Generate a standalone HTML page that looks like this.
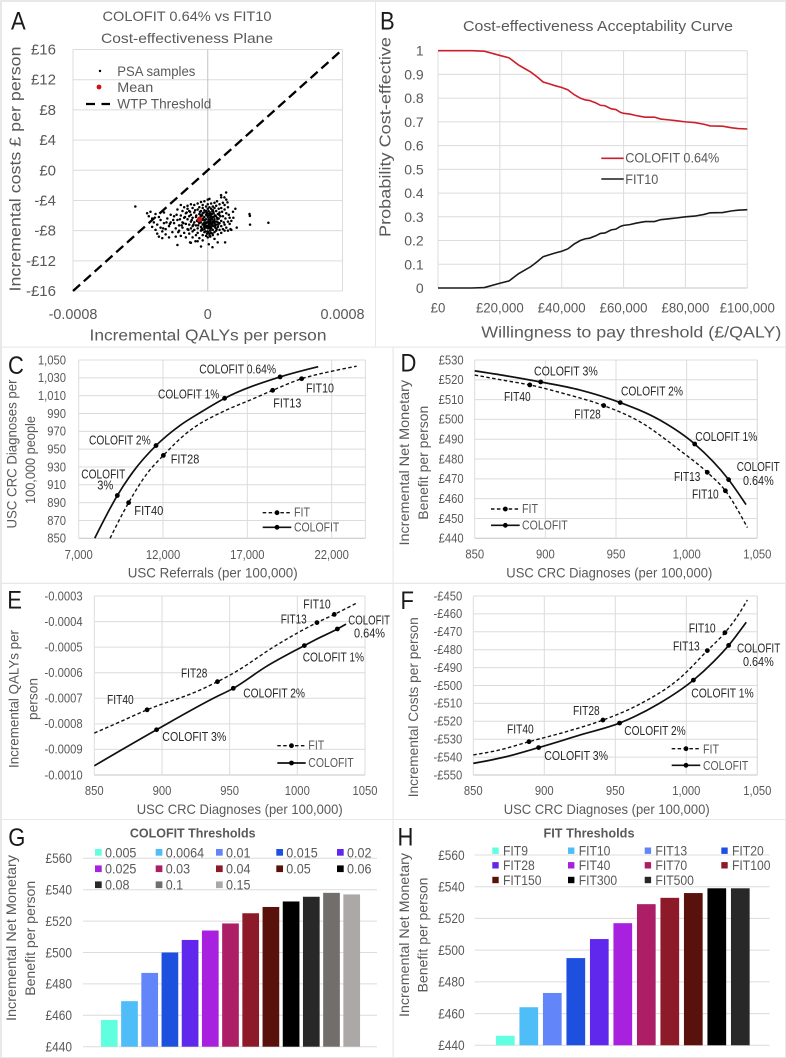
<!DOCTYPE html>
<html lang="en">
<head>
<meta charset="utf-8">
<title>COLOFIT vs FIT cost-effectiveness figure</title>
<style>
html,body{margin:0;padding:0;background:#e8e8e8;}
body{width:786px;height:1058px;overflow:hidden;}
svg{display:block;filter:blur(0.35px);font-family:"Liberation Sans",Arial,sans-serif;}
</style>
</head>
<body>
<svg id="figure" xmlns="http://www.w3.org/2000/svg" width="786" height="1058" viewBox="0 0 786 1058"></svg>
<script>
// ---------- Panel A data ----------
const aYTicks = [16,12,8,4,0,-4,-8,-12,-16];
const aYLabels = ['£16','£12','£8','£4','£0','-£4','-£8','-£12','-£16'];
const aXTicks = [-0.0008,0,0.0008];
const aXLabels = ['-0.0008','0','0.0008'];
const thresholdQaly = [-0.0008,0.0008];
const thresholdCost = [-16,16];
const meanQaly = [-0.000049];
const meanCost = [-6.5];
const psaQaly1e5 = [-43,24.8,25,25.1,36,16.4,15.2,17.2,13.5,10.9,7.9,9.9,11.7,-18,-4,2.8,0.6,5.9,10.3,-10.5,-7.3,-3,-10,4,-6,
-36,-35,-34,-33,-33,-32,-31,-31,-30,-30,-29,-29,-28,-28,-27,-27,-26,-26,-25,-25,-24,-23,-23,-22,-22,-21,-20,-20,-19,-19,-18,-18,-17,-17,-16,-16,-16,-15,-15,-15,-14,-14,-14,-13,-13,-13,-12,-12,-12,-12,-11,-11,-11,-11,-10,-10,-10,-10,-9,-9,-9,-9,-9,-8,-8,-8,-8,-7,-7,-7,
-6,-6,-6,-6,-6,-5,-5,-5,-5,-5,-4,-4,-4,-4,-4,-4,-3,-3,-3,-3,-3,-3,-2,-2,-2,-2,-2,-2,-2,-1,-1,-1,-1,-1,-1,-1,0,0,0,0,0,0,0,0,0,0.5,0.5,0.5,1,1,1,1,1,1,1,1.5,1.5,1.5,1.5,2,2,2,2,2,2,2.5,2.5,2.5,3,3,3,3,3,3.5,3.5,3.5,4,4,4,4,4,4.5,4.5,5,5,5,5,5,5.5,5.5,6,6,6,6,6.5,6.5,7,7,7,7,7.5,8,8,8,8,8,8.5,9,9,9,9.5,10,10,10,10,10.5,11,11,11,12,12,12,12.5,13,13,14,14,15];
const psaCost = [-4.8,-5.8,-6.05,-7.2,-6.95,-5.1,-6.3,-7.6,-7.8,-2.95,-3.3,-3.6,-4.25,-9.9,-10.1,-10.2,-9.8,-9.55,-9.55,-9.55,-9.4,-9.3,-9.6,-9.1,-9.4,
-5.7,-6.1,-5.5,-6.4,-7.5,-6.9,-5.8,-7.9,-8.4,-7.2,-6.2,-8.8,-7.6,-6.6,-8.1,-9.0,-5.6,-7.0,-7.8,-8.5,-6.4,-8.9,-7.4,-6.9,-5.9,-8.2,-7.0,-6.1,-8.8,-7.7,-6.6,-5.2,-7.3,-8.0,-6.0,-4.6,-8.7,-6.9,-5.4,-7.6,-8.3,-6.3,-4.9,-7.1,-5.7,-8.9,-6.5,-7.8,-5.1,-4.7,-6.1,-7.2,-8.4,-5.4,-6.8,-4.5,-7.7,-5.9,-6.3,-7.4,-8.9,-5.0,-8.1,-5.6,-6.9,-4.6,-7.9,-6.2,-7.3,-8.6,
-5.2,-6.6,-7.7,-8.3,-4.4,-5.8,-7.0,-6.3,-9.0,-4.9,-6.9,-5.4,-7.5,-8.0,-4.2,-6.1,-5.0,-6.6,-7.2,-8.6,-5.7,-4.6,-6.2,-7.8,-5.3,-6.9,-4.1,-8.2,-7.3,-5.9,-6.5,-7.0,-8.7,-4.8,-5.4,-7.6,-6.2,-6.8,-3.9,-5.1,-7.4,-8.1,-8.9,-4.5,-5.7,-6.5,-7.1,-5.4,-6.0,-7.7,-8.4,-4.9,-6.7,-3.8,-7.3,-5.6,-6.3,-8.0,-8.8,-5.1,-6.9,-7.5,-4.4,-6.1,-8.3,-5.8,-7.1,-6.5,-4.8,-7.9,-5.3,-6.8,-8.6,-6.2,-7.4,-5.7,-4.3,-7.0,-6.5,-8.2,-5.0,-6.0,-7.6,-5.4,-6.8,-4.7,-7.2,-8.0,-6.3,-4.1,-5.8,-7.5,-6.9,-8.5,-5.1,-6.4,-4.5,-7.9,-5.6,-7.0,-6.1,-3.6,-5.0,-6.7,-7.4,-8.3,-5.5,-4.3,-6.1,-7.8,-6.9,-5.2,-4.6,-7.2,-8.0,-6.4,-5.7,-7.6,-3.9,-6.8,-4.9,-8.0,-5.9,-7.1,-6.3,-7.9,-6.7,-5.5];
const psaCoreQaly1e5 = [-6.4,-5.7,-5.2,-4.6,-3.7,-3.3,-2.6,-2.3,-1.7,-1.3,-0.6,-0.3,0.3,0.8,1.3,1.8,2.3,2.8,3.3,3.8,4.3,4.8,5.3,5.8,6.3,6.8,-6.8,-5.5,-4.3,-3.5,-2.8,-1.5,-0.8,0.2,0.7,1.2,1.7,2.2,2.7,3.2,3.7,4.2,-0.4,0.4,1.1,-1.1,-2.1,2.1,-3.1,3.1,-12.5,-14.5,-16.5,-18.5,-20.5,-22.5,-24.5,-26.5,-8.5,-7.5,-10.5,-11.5,-9.5,-13.5,-15.5,-17.5];
const psaCoreCost = [-6.7,-7.3,-6.4,-5.5,-7.9,-6.0,-7.1,-5.6,-6.6,-8.1,-7.4,-6.0,-6.9,-7.6,-5.8,-7.0,-6.4,-8.4,-5.5,-6.7,-7.3,-6.1,-7.8,-6.5,-7.2,-5.9,-6.0,-6.8,-5.9,-7.7,-6.4,-7.2,-5.6,-7.7,-6.0,-7.0,-6.6,-7.2,-5.4,-6.2,-6.9,-6.0,-8.4,-8.2,-8.6,-6.9,-7.5,-7.7,-7.9,-7.3,-5.6,-7.0,-6.5,-5.9,-6.6,-7.1,-6.9,-7.7,-7.2,-5.3,-5.5,-7.9,-6.6,-6.2,-7.3,-8.2];

// ---------- Panel B data ----------
const bYTicks = [1,0.9,0.8,0.7,0.6,0.5,0.4,0.3,0.2,0.1,0];
const bYLabels = ['1','0.9','0.8','0.7','0.6','0.5','0.4','0.3','0.2','0.1','0'];
const bXTicks = [0,20000,40000,60000,80000,100000];
const bXLabels = ['£0','£20,000','£40,000','£60,000','£80,000','£100,000'];
const wtpValues = [0,11000,15000,20000,23000,26000,28000,30000,32000,34000,36000,38000,40000,42000,44000,46000,47500,49000,51000,52500,54000,56000,57500,59000,60000,62000,64000,66000,67000,70000,72000,75000,77000,80000,83000,86000,88000,92000,95000,97000,100000];
const ceacColofit = [1,1,.998,.98,.97,.94,.925,.91,.89,.868,.86,.852,.845,.835,.815,.80,.793,.79,.78,.77,.768,.755,.752,.74,.736,.733,.727,.722,.72,.72,.712,.708,.705,.70,.697,.69,.683,.682,.675,.672,.67];
const ceacFit = [0,0,.002,.02,.03,.06,.075,.09,.11,.132,.14,.148,.155,.165,.185,.20,.207,.21,.22,.23,.232,.245,.248,.26,.264,.267,.273,.278,.28,.28,.288,.292,.295,.30,.303,.31,.317,.318,.325,.328,.33];

// ---------- Panel C data ----------
const cXTicks = [7000,12000,17000,22000];
const cXLabels = ['7,000','12,000','17,000','22,000'];
const cYTicks = [1050,1030,1010,990,970,950,930,910,890,870,850];
const cYLabels = ['1,050','1,030','1,010','990','970','950','930','910','890','870','850'];
const cColofitX = [7950,9290,10240,11585,13000,14200,15650,18940,21200];
const cColofitY = [850,898,925,954,976.5,991,1007,1031,1042.5];
const cColofitMarks = [1,3,6,7];
const cFitX = [8860,9960,11030,12020,13400,15770,17160,18500,20220,21900,23480];
const cFitY = [850,890,922,943,968,994,1005,1016,1029,1037,1043];
const cFitMarks = [1,3,7,8];

// ---------- Panel D data ----------
const dXTicks = [850,900,950,1000,1050];
const dXLabels = ['850','900','950','1,000','1,050'];
const dYTicks = [530,520,510,500,490,480,470,460,450,440];
const dYLabels = ['£530','£520','£510','£500','£490','£480','£470','£460','£450','£440'];
const dColofitX = [850,872.4,896.7,924.3,953,981,1005.7,1029.7,1042];
const dColofitY = [524.5,522,518.9,514.9,508.5,499.7,487.6,469.6,457];
const dColofitMarks = [2,4,6,7];
const dFitX = [850,867.7,889,915,941.3,966.7,995,1014.6,1027.4,1043];
const dFitY = [522.4,520.1,517.4,512.7,507,498.9,484.5,473.3,464,445.4];
const dFitMarks = [2,4,7,8];

// ---------- Panel E data ----------
const eXTicks = [850,900,950,1000,1050];
const eXLabels = ['850','900','950','1000','1050'];
const eYTicks = [-0.0003,-0.0004,-0.0005,-0.0006,-0.0007,-0.0008,-0.0009,-0.0010];
const eYLabels = ['-0.0003','-0.0004','-0.0005','-0.0006','-0.0007','-0.0008','-0.0009','-0.0010'];
const eColofitX = [850,896,938,952.7,977,1005.2,1013,1029.6,1036];
const eColofitY = [-0.000964,-0.000823,-0.0007,-0.000661,-0.000576,-0.000494,-0.000472,-0.000429,-0.00041];
const eColofitMarks = [1,3,5,7];
const eFitX = [850,869,889,928,941,952.7,984.7,1014.5,1027.3,1043.3];
const eFitY = [-0.000836,-0.000792,-0.000745,-0.000668,-0.000635,-0.000602,-0.000492,-0.000404,-0.000372,-0.000329];
const eFitMarks = [2,4,7,8];

// ---------- Panel F data ----------
const fXTicks = [850,900,950,1000,1050];
const fXLabels = ['850','900','950','1,000','1,050'];
const fYTicks = [-450,-460,-470,-480,-490,-500,-510,-520,-530,-540,-550];
const fYLabels = ['-£450','-£460','-£470','-£480','-£490','-£500','-£510','-£520','-£530','-£540','-£550'];
const fColofitX = [850,873,896,925,953,981,1005,1018.8,1029.8,1042.2];
const fColofitY = [-543.5,-539.8,-534.7,-527.7,-521,-510,-497,-487,-477.6,-464.7];
const fColofitMarks = [2,4,6,8];
const fFitX = [850,868.5,889.2,915.5,941.3,967,995.3,1014.8,1027.2,1035,1043];
const fFitY = [-538.8,-536,-531.4,-525.8,-519.3,-510.5,-496,-480.5,-470.5,-462.5,-452.2];
const fFitMarks = [2,4,7,8];

// ---------- Panels G and H data ----------
const barYTicks = [560,540,520,500,480,460,440];
const barYLabels = ['£560','£540','£520','£500','£480','£460','£440'];
const gCategories = ['0.005','0.0064','0.01','0.015','0.02','0.025','0.03','0.04','0.05','0.06','0.08','0.1','0.15'];
const gValues = [457,469,487,500,508,514,518.5,525,529,532.5,535.5,538,537];
const gColors = ['#5fffdf','#4fbdf7','#6285fa','#1e50e0','#5f28ec','#a721df','#ac1f66','#8c1a28','#58120b','#000000','#282828','#726e6c','#aca8a7'];
const hCategories = ['FIT9','FIT10','FIT13','FIT20','FIT28','FIT40','FIT70','FIT100','FIT150','FIT300','FIT500'];
const hValues = [446,464,473,495,507,517,529,533,536,539,539];
const hColors = ['#5fffdf','#4fbdf7','#6285fa','#1e50e0','#5f28ec','#a721df','#ac1f66','#8c1a28','#58120b','#000000','#282828'];

// ---------- Helpers ----------
const NS = 'http://www.w3.org/2000/svg';
const svg = document.getElementById('figure');
const GRAY = '#595959', DARK = '#262626', GRID = '#dcdcdc', AXIS = '#c4c4c4';

function mk(tag, parent, attrs, name) {
  const el = document.createElementNS(NS, tag);
  for (const k in attrs) el.setAttribute(k, attrs[k]);
  
  
  parent.appendChild(el);
  return el;
}
function scale(d0, d1, r0, r1) { return v => r0 + (v - d0) / (d1 - d0) * (r1 - r0); }

function txt(parent, str, x, y, size, name, o) {
  o = o || {};
  const attrs = {x: x, y: y, 'font-size': size, fill: o.fill || GRAY, 'text-anchor': o.anchor || 'start'};
  if (o.weight) attrs['font-weight'] = o.weight;
  if (o.rot) attrs.transform = 'rotate(-90 ' + x + ' ' + y + ')';
  const el = mk('text', parent, attrs, name);
  el.textContent = str;
  let w = o.width;
  if (!w && o.squeeze) w = el.getComputedTextLength() * o.squeeze;
  if (w) { el.setAttribute('textLength', w); el.setAttribute('lengthAdjust', 'spacingAndGlyphs'); }
  return el;
}
function line(parent, x1, y1, x2, y2, stroke, sw, name, dash) {
  const a = {x1: x1, y1: y1, x2: x2, y2: y2, stroke: stroke, 'stroke-width': sw};
  if (dash) a['stroke-dasharray'] = dash;
  return mk('line', parent, a, name);
}
// Monotone cubic path through pixel points sorted along x.
function smoothPath(pts) {
  const n = pts.length, sl = [], t = [];
  for (let i = 0; i < n - 1; i++) sl.push((pts[i + 1][1] - pts[i][1]) / (pts[i + 1][0] - pts[i][0]));
  for (let i = 1; i < n - 1; i++) {
    const h0 = pts[i][0] - pts[i - 1][0], h1 = pts[i + 1][0] - pts[i][0];
    const p = (sl[i - 1] * h1 + sl[i] * h0) / (h0 + h1);
    t[i] = (Math.sign(sl[i - 1]) + Math.sign(sl[i])) * Math.min(Math.abs(sl[i - 1]), Math.abs(sl[i]), 0.5 * Math.abs(p));
  }
  t[0] = (3 * sl[0] - t[1]) / 2;
  t[n - 1] = (3 * sl[n - 2] - t[n - 2]) / 2;
  let d = 'M' + pts[0][0].toFixed(2) + ' ' + pts[0][1].toFixed(2);
  for (let i = 0; i < n - 1; i++) {
    const dx = (pts[i + 1][0] - pts[i][0]) / 3;
    d += 'C' + (pts[i][0] + dx).toFixed(2) + ' ' + (pts[i][1] + dx * t[i]).toFixed(2) + ' ' +
      (pts[i + 1][0] - dx).toFixed(2) + ' ' + (pts[i + 1][1] - dx * t[i + 1]).toFixed(2) + ' ' +
      pts[i + 1][0].toFixed(2) + ' ' + pts[i + 1][1].toFixed(2);
  }
  return d;
}
function panel(x, y, w, h, name) {
  const g = mk('g', svg, {}, name);
  mk('rect', g, {x: x, y: y, width: w, height: h, fill: '#ffffff'}, name + '-background');
  return g;
}
function letter(g, s, x, y) { txt(g, s, x, y, 25, 'panel-letter-' + s.toLowerCase(), {fill: '#1a1a1a', squeeze: 0.88}); }

function curveAxes(g, c) {
  const sx = scale(c.xd[0], c.xd[1], c.x0, c.x1);
  const sy = scale(c.yd[0], c.yd[1], c.y0, c.y1);
  c.yTicks.forEach((t, i) => {
    const isBase = t === c.yd[0];
    line(g, c.x0, sy(t), c.x1, sy(t), isBase ? AXIS : GRID, 1, 'y-gridline');
    txt(g, c.yLabels[i], c.yLabelX, sy(t) + 4.3, 12.5, 'y-tick-label', {anchor: 'end', squeeze: 0.9});
  });
  c.xTicks.forEach((t, i) => {
    line(g, sx(t), c.y0, sx(t), c.y1, GRID, 1, 'x-gridline');
    txt(g, c.xLabels[i], sx(t), c.xLabelY, 12.5, 'x-tick-label', {anchor: 'middle', squeeze: 0.9});
  });
  line(g, c.x1, c.y0, c.x1, c.y1, GRID, 1, 'plot-right-edge');
  return {sx: sx, sy: sy};
}
function curve(g, s, xs, ys, marks, dashed, name) {
  const pts = xs.map((v, i) => [s.sx(v), s.sy(ys[i])]);
  const a = {d: smoothPath(pts), fill: 'none', stroke: '#111111', 'stroke-width': dashed ? 1.4 : 1.7};
  if (dashed) a['stroke-dasharray'] = '3.5 2.4';
  mk('path', g, a, name + '-line');
  marks.forEach(i => {
    mk('circle', g, {cx: s.sx(xs[i]), cy: s.sy(ys[i]), r: 2.4, fill: '#000000'}, name + '-point');
  });
}
function ann(g, str, x1, x2, y) {
  txt(g, str, x1, y, 12.5, 'point-label', {fill: DARK, width: x2 - x1});
}
function curveLegend(g, x0, x1, yFit, yCol, tx, fitBase, colBase, fitW, colW) {
  line(g, x0, yFit, x1, yFit, '#111', 1.4, 'legend-fit-line', '3.5 2.4');
  mk('circle', g, {cx: (x0 + x1) / 2, cy: yFit, r: 2.4, fill: '#000'}, 'legend-fit-marker');
  txt(g, 'FIT', tx, fitBase, 12.5, 'legend-fit-label', {width: fitW});
  line(g, x0, yCol, x1, yCol, '#111', 1.7, 'legend-colofit-line');
  mk('circle', g, {cx: (x0 + x1) / 2, cy: yCol, r: 2.4, fill: '#000'}, 'legend-colofit-marker');
  txt(g, 'COLOFIT', tx, colBase, 12.5, 'legend-colofit-label', {width: colW});
}
function barChart(g, c) {
  const sy = scale(440, 560, c.y440, c.y560);
  barYTicks.forEach((t, i) => {
    line(g, c.gx0, sy(t), c.gx1, sy(t), GRID, 1, 'y-gridline');
    txt(g, barYLabels[i], c.labelX, sy(t) + 4.8, 13.5, 'y-tick-label', {anchor: 'end', width: 26.5});
  });
  c.values.forEach((v, i) => {
    const cx = c.first + i * c.band;
    mk('rect', g, {x: cx - c.bw / 2, y: sy(v), width: c.bw, height: sy(440) - sy(v), fill: c.colors[i]}, 'bar-' + c.cats[i].toLowerCase());
  });
}

// ---------- Panel A ----------
(function () {
  const g = panel(2, 2, 373, 344.5, 'panel-a-cost-effectiveness-plane');
  letter(g, 'A', 11, 29.3);
  txt(g, 'COLOFIT 0.64% vs FIT10', 187, 21, 14, 'panel-a-title-line-1', {anchor: 'middle', width: 169});
  txt(g, 'Cost-effectiveness Plane', 187, 43, 14, 'panel-a-title-line-2', {anchor: 'middle', width: 172});
  const x0 = 73, x1 = 342.5, y0 = 291, y1 = 49.5;
  const sx = scale(-0.0008, 0.0008, x0, x1), sy = scale(-16, 16, y0, y1);
  aYTicks.forEach((t, i) => {
    line(g, x0, sy(t), x1, sy(t), GRID, 1, 'y-gridline');
    txt(g, aYLabels[i], 56, sy(t) + 5, 15, 'y-tick-label', {anchor: 'end'});
  });
  line(g, x0, y0, x0, y1, GRID, 1, 'plot-left-edge');
  line(g, x1, y0, x1, y1, GRID, 1, 'plot-right-edge');
  line(g, sx(0), y0, sx(0), y1, AXIS, 1, 'zero-axis');
  aXTicks.forEach((t, i) => {
    txt(g, aXLabels[i], sx(t), 319, 15, 'x-tick-label', {anchor: 'middle', squeeze: 0.96});
  });
  txt(g, 'Incremental QALYs per person', 208, 340.7, 15.5, 'x-axis-title', {anchor: 'middle', width: 237});
  txt(g, 'Incremental costs £ per person', 20.7, 169, 15.5, 'y-axis-title', {anchor: 'middle', width: 245, rot: true});
  const n = Math.min(psaQaly1e5.length, psaCost.length);
  for (let i = 0; i < n; i++) {
    mk('circle', g, {cx: sx(psaQaly1e5[i] * 1e-5), cy: sy(psaCost[i]), r: 1.25, fill: '#000'}, 'psa-sample-point');
  }
  const m = Math.min(psaCoreQaly1e5.length, psaCoreCost.length);
  for (let i = 0; i < m; i++) {
    mk('circle', g, {cx: sx(psaCoreQaly1e5[i] * 1e-5), cy: sy(psaCoreCost[i]), r: 1.25, fill: '#000'}, 'psa-sample-point');
  }
  line(g, sx(thresholdQaly[0]), sy(thresholdCost[0]), sx(thresholdQaly[1]), sy(thresholdCost[1]), '#000', 2.3, 'wtp-threshold-line', '9.5 5');
  mk('circle', g, {cx: sx(meanQaly[0]), cy: sy(meanCost[0]), r: 2.6, fill: '#d01010'}, 'mean-point');
  mk('circle', g, {cx: 100, cy: 71, r: 1.2, fill: '#000'}, 'legend-psa-marker');
  txt(g, 'PSA samples', 117.3, 76, 14, 'legend-psa-label', {width: 78});
  mk('circle', g, {cx: 99, cy: 87, r: 2.4, fill: '#d01010'}, 'legend-mean-marker');
  txt(g, 'Mean', 117.3, 92, 14, 'legend-mean-label', {width: 36});
  line(g, 86, 104, 110, 104, '#000', 2.3, 'legend-wtp-line', '9 6.5');
  txt(g, 'WTP Threshold', 117.3, 108.7, 14, 'legend-wtp-label', {width: 94});
})();

// ---------- Panel B ----------
(function () {
  const g = panel(376, 2, 409, 344.5, 'panel-b-acceptability-curve');
  txt(g, 'Cost-effectiveness Acceptability Curve', 598, 31, 14.5, 'panel-b-title', {anchor: 'middle', width: 270});
  const x0 = 438, x1 = 747.3, y0 = 288, y1 = 50.7;
  const sx = scale(0, 100000, x0, x1), sy = scale(0, 1, y0, y1);
  bYTicks.forEach((t, i) => {
    line(g, x0, sy(t), x1, sy(t), t === 0 ? AXIS : GRID, 1, 'y-gridline');
    txt(g, bYLabels[i], 423.7, sy(t) + 5, 14, 'y-tick-label', {anchor: 'end'});
  });
  bXTicks.forEach((t, i) => {
    line(g, sx(t), y0, sx(t), y1, GRID, 1, 'x-gridline');
    txt(g, bXLabels[i], sx(t), 312.7, 13.5, 'x-tick-label', {anchor: 'middle', squeeze: 0.98});
  });
  txt(g, 'Willingness to pay threshold (£/QALY)', 631.3, 337.3, 16, 'x-axis-title', {anchor: 'middle', width: 300});
  txt(g, 'Probability Cost-effective', 390.7, 137, 16, 'y-axis-title', {anchor: 'middle', width: 200, rot: true});
  const poly = ys => wtpValues.map((v, i) => sx(v).toFixed(2) + ',' + sy(ys[i]).toFixed(2)).join(' ');
  mk('polyline', g, {points: poly(ceacColofit), fill: 'none', stroke: '#cc1f2b', 'stroke-width': 1.6}, 'colofit-ceac-line');
  mk('polyline', g, {points: poly(ceacFit), fill: 'none', stroke: '#1a1a1a', 'stroke-width': 1.6}, 'fit10-ceac-line');
  line(g, 601.3, 158.3, 623.7, 158.3, '#cc1f2b', 1.6, 'legend-colofit-line');
  txt(g, 'COLOFIT 0.64%', 625.3, 162.7, 14, 'legend-colofit-label', {width: 94});
  line(g, 601.3, 179, 623.7, 179, '#1a1a1a', 1.6, 'legend-fit10-line');
  txt(g, 'FIT10', 625.3, 184, 14, 'legend-fit10-label', {width: 33});
  letter(g, 'B', 380, 29.3);
})();

// ---------- Panel C ----------
(function () {
  const g = panel(2, 347.7, 390.5, 235, 'panel-c-referrals-vs-diagnoses');
  letter(g, 'C', 8, 374);
  const s = curveAxes(g, {x0: 78.7, x1: 365.4, y0: 538.3, y1: 360, xd: [7000, 24000], yd: [850, 1050],
    xTicks: cXTicks, xLabels: cXLabels, yTicks: cYTicks, yLabels: cYLabels, yLabelX: 66, xLabelY: 559});
  curve(g, s, cFitX, cFitY, cFitMarks, true, 'fit-series');
  curve(g, s, cColofitX, cColofitY, cColofitMarks, false, 'colofit-series');
  ann(g, 'COLOFIT 0.64%', 199.3, 276, 373.3);
  ann(g, 'COLOFIT 1%', 158, 219.3, 398.3);
  ann(g, 'COLOFIT 2%', 89, 150.7, 444.3);
  ann(g, 'COLOFIT', 81.3, 125.3, 478.3);
  ann(g, '3%', 97.3, 113.3, 489.3);
  ann(g, 'FIT10', 306, 334, 392.3);
  ann(g, 'FIT13', 273.3, 301.3, 407.3);
  ann(g, 'FIT28', 170.7, 199.3, 463.3);
  ann(g, 'FIT40', 134.3, 163.3, 515);
  curveLegend(g, 262.7, 291.3, 512.7, 527.3, 294, 516.7, 531.7, 16, 45.3);
  txt(g, 'USC Referrals (per 100,000)', 212.7, 577.7, 14, 'x-axis-title', {anchor: 'middle', width: 170});
  txt(g, 'USC CRC Diagnoses per', 16.7, 454, 14, 'y-axis-title-line-1', {anchor: 'middle', width: 149, rot: true});
  txt(g, '100,000 people', 35, 460, 14, 'y-axis-title-line-2', {anchor: 'middle', width: 88, rot: true});
})();

// ---------- Panel D ----------
(function () {
  const g = panel(393.7, 347.7, 391.3, 235, 'panel-d-net-benefit-vs-diagnoses');
  letter(g, 'D', 400.5, 371.5);
  const s = curveAxes(g, {x0: 474.7, x1: 757.3, y0: 538.3, y1: 360, xd: [850, 1050], yd: [440, 530],
    xTicks: dXTicks, xLabels: dXLabels, yTicks: dYTicks, yLabels: dYLabels, yLabelX: 463.7, xLabelY: 558.3});
  curve(g, s, dFitX, dFitY, dFitMarks, true, 'fit-series');
  curve(g, s, dColofitX, dColofitY, dColofitMarks, false, 'colofit-series');
  ann(g, 'COLOFIT 3%', 534, 597.7, 375.7);
  ann(g, 'COLOFIT 2%', 621, 683, 395.7);
  ann(g, 'FIT40', 504, 530.7, 401);
  ann(g, 'FIT28', 574.3, 600.7, 418.3);
  ann(g, 'COLOFIT 1%', 695.3, 757.3, 441);
  ann(g, 'COLOFIT', 736.7, 779.7, 471);
  ann(g, '0.64%', 743, 773.7, 485);
  ann(g, 'FIT13', 674, 700.3, 481);
  ann(g, 'FIT10', 692, 718.7, 498.3);
  curveLegend(g, 491, 519.7, 509, 525.3, 522, 513, 529.7, 16, 45.7);
  txt(g, 'USC CRC Diagnoses (per 100,000)', 609.3, 577.7, 14, 'x-axis-title', {anchor: 'middle', width: 206});
  txt(g, 'Incremental Net Monetary', 409, 462.7, 14, 'y-axis-title-line-1', {anchor: 'middle', width: 165.7, rot: true});
  txt(g, 'Benefit per person', 428, 462.7, 14, 'y-axis-title-line-2', {anchor: 'middle', width: 114, rot: true});
})();

// ---------- Panel E ----------
(function () {
  const g = panel(2, 584, 390.5, 235, 'panel-e-qalys-vs-diagnoses');
  letter(g, 'E', 7.3, 608.5);
  const s = curveAxes(g, {x0: 94.3, x1: 365, y0: 775, y1: 596, xd: [850, 1050], yd: [-0.0010, -0.0003],
    xTicks: eXTicks, xLabels: eXLabels, yTicks: eYTicks, yLabels: eYLabels, yLabelX: 82.7, xLabelY: 795});
  curve(g, s, eFitX, eFitY, eFitMarks, true, 'fit-series');
  curve(g, s, eColofitX, eColofitY, eColofitMarks, false, 'colofit-series');
  ann(g, 'FIT10', 303.3, 330.7, 608.3);
  ann(g, 'FIT13', 280.7, 306.7, 623.3);
  ann(g, 'COLOFIT', 348.3, 390, 624.3);
  ann(g, '0.64%', 354, 385, 637.7);
  ann(g, 'COLOFIT 1%', 302.7, 364, 661.7);
  ann(g, 'FIT28', 181, 207.3, 677.7);
  ann(g, 'COLOFIT 2%', 243.3, 305, 697.7);
  ann(g, 'FIT40', 107, 133.7, 704);
  ann(g, 'COLOFIT 3%', 162.3, 226.3, 741);
  curveLegend(g, 277.3, 305.7, 745.7, 763, 308.3, 749.3, 767, 16, 45.4);
  txt(g, 'USC CRC Diagnoses (per 100,000)', 239.7, 814, 14, 'x-axis-title', {anchor: 'middle', width: 206});
  txt(g, 'Incremental QALYs per', 18.3, 699, 14, 'y-axis-title-line-1', {anchor: 'middle', width: 138, rot: true});
  txt(g, 'person', 37.3, 699, 14, 'y-axis-title-line-2', {anchor: 'middle', width: 42, rot: true});
})();

// ---------- Panel F ----------
(function () {
  const g = panel(393.7, 584, 391.3, 235, 'panel-f-costs-vs-diagnoses');
  letter(g, 'F', 400.5, 609);
  const s = curveAxes(g, {x0: 473.3, x1: 757.3, y0: 775, y1: 596, xd: [850, 1050], yd: [-550, -450],
    xTicks: fXTicks, xLabels: fXLabels, yTicks: fYTicks, yLabels: fYLabels, yLabelX: 462.3, xLabelY: 795});
  curve(g, s, fFitX, fFitY, fFitMarks, true, 'fit-series');
  curve(g, s, fColofitX, fColofitY, fColofitMarks, false, 'colofit-series');
  ann(g, 'FIT10', 688.7, 715.7, 632.3);
  ann(g, 'FIT13', 673, 699.7, 650.7);
  ann(g, 'COLOFIT', 737, 780.3, 652.7);
  ann(g, '0.64%', 743, 773.7, 666);
  ann(g, 'COLOFIT 1%', 691.3, 753.7, 697.3);
  ann(g, 'FIT28', 573, 599.7, 715);
  ann(g, 'FIT40', 507, 533.7, 733.3);
  ann(g, 'COLOFIT 2%', 624.3, 685.7, 735);
  ann(g, 'COLOFIT 3%', 544.3, 608, 760);
  curveLegend(g, 671.7, 700.3, 748.7, 765.3, 703, 753.3, 770, 16, 45.3);
  txt(g, 'USC CRC Diagnoses (per 100,000)', 606.7, 814, 14, 'x-axis-title', {anchor: 'middle', width: 206});
  txt(g, 'Incremental Costs per person', 418, 707.3, 14, 'y-axis-title', {anchor: 'middle', width: 180, rot: true});
})();

// ---------- Panel G ----------
(function () {
  const g = panel(2, 820, 390.5, 237, 'panel-g-colofit-thresholds');
  letter(g, 'G', 8.3, 846);
  txt(g, 'COLOFIT Thresholds', 192.7, 837.3, 13, 'panel-g-title', {anchor: 'middle', weight: 'bold', width: 125.7});
  barChart(g, {y440: 1046.7, y560: 858.3, gx0: 83, gx1: 377, labelX: 72, first: 109.3, band: 20.2, bw: 16.7,
    values: gValues, colors: gColors, cats: gCategories});
  const cols = [95, 155.7, 216, 276.3, 337], rows = [852.3, 868.7, 884.7];
  gCategories.forEach((c, i) => {
    const x = cols[i % 5], y = rows[Math.floor(i / 5)];
    mk('rect', g, {x: x, y: y - 3.3, width: 6.7, height: 6.7, fill: gColors[i]}, 'legend-swatch-' + c);
    txt(g, c, x + 10, y + 5, 13.5, 'legend-label-' + c, {squeeze: 0.93});
  });
  txt(g, 'Incremental Net Monetary', 16, 938, 14, 'y-axis-title-line-1', {anchor: 'middle', width: 166, rot: true});
  txt(g, 'Benefit per person', 35, 938.3, 14, 'y-axis-title-line-2', {anchor: 'middle', width: 115, rot: true});
})();

// ---------- Panel H ----------
(function () {
  const g = panel(393.7, 820, 391.3, 237, 'panel-h-fit-thresholds');
  letter(g, 'H', 397.5, 845.5);
  txt(g, 'FIT Thresholds', 589, 837.3, 13, 'panel-h-title', {anchor: 'middle', weight: 'bold', width: 91});
  barChart(g, {y440: 1045.3, y560: 855, gx0: 474.7, gx1: 769.7, labelX: 464.7, first: 505.3, band: 23.5, bw: 18.7,
    values: hValues, colors: hColors, cats: hCategories});
  const cols = [492.3, 568, 644.7, 721.3], rows = [850.7, 865.3, 880];
  hCategories.forEach((c, i) => {
    const x = cols[i % 4], y = rows[Math.floor(i / 4)];
    mk('rect', g, {x: x, y: y - 3.2, width: 6.4, height: 6.4, fill: hColors[i]}, 'legend-swatch-' + c.toLowerCase());
    txt(g, c, x + 10.7, y + 4.8, 13.5, 'legend-label-' + c.toLowerCase(), {squeeze: 0.9});
  });
  txt(g, 'Incremental Net Monetary', 409, 935, 14, 'y-axis-title-line-1', {anchor: 'middle', width: 164, rot: true});
  txt(g, 'Benefit per person', 427.3, 935, 14, 'y-axis-title-line-2', {anchor: 'middle', width: 115, rot: true});
})();
</script>
</body>
</html>
